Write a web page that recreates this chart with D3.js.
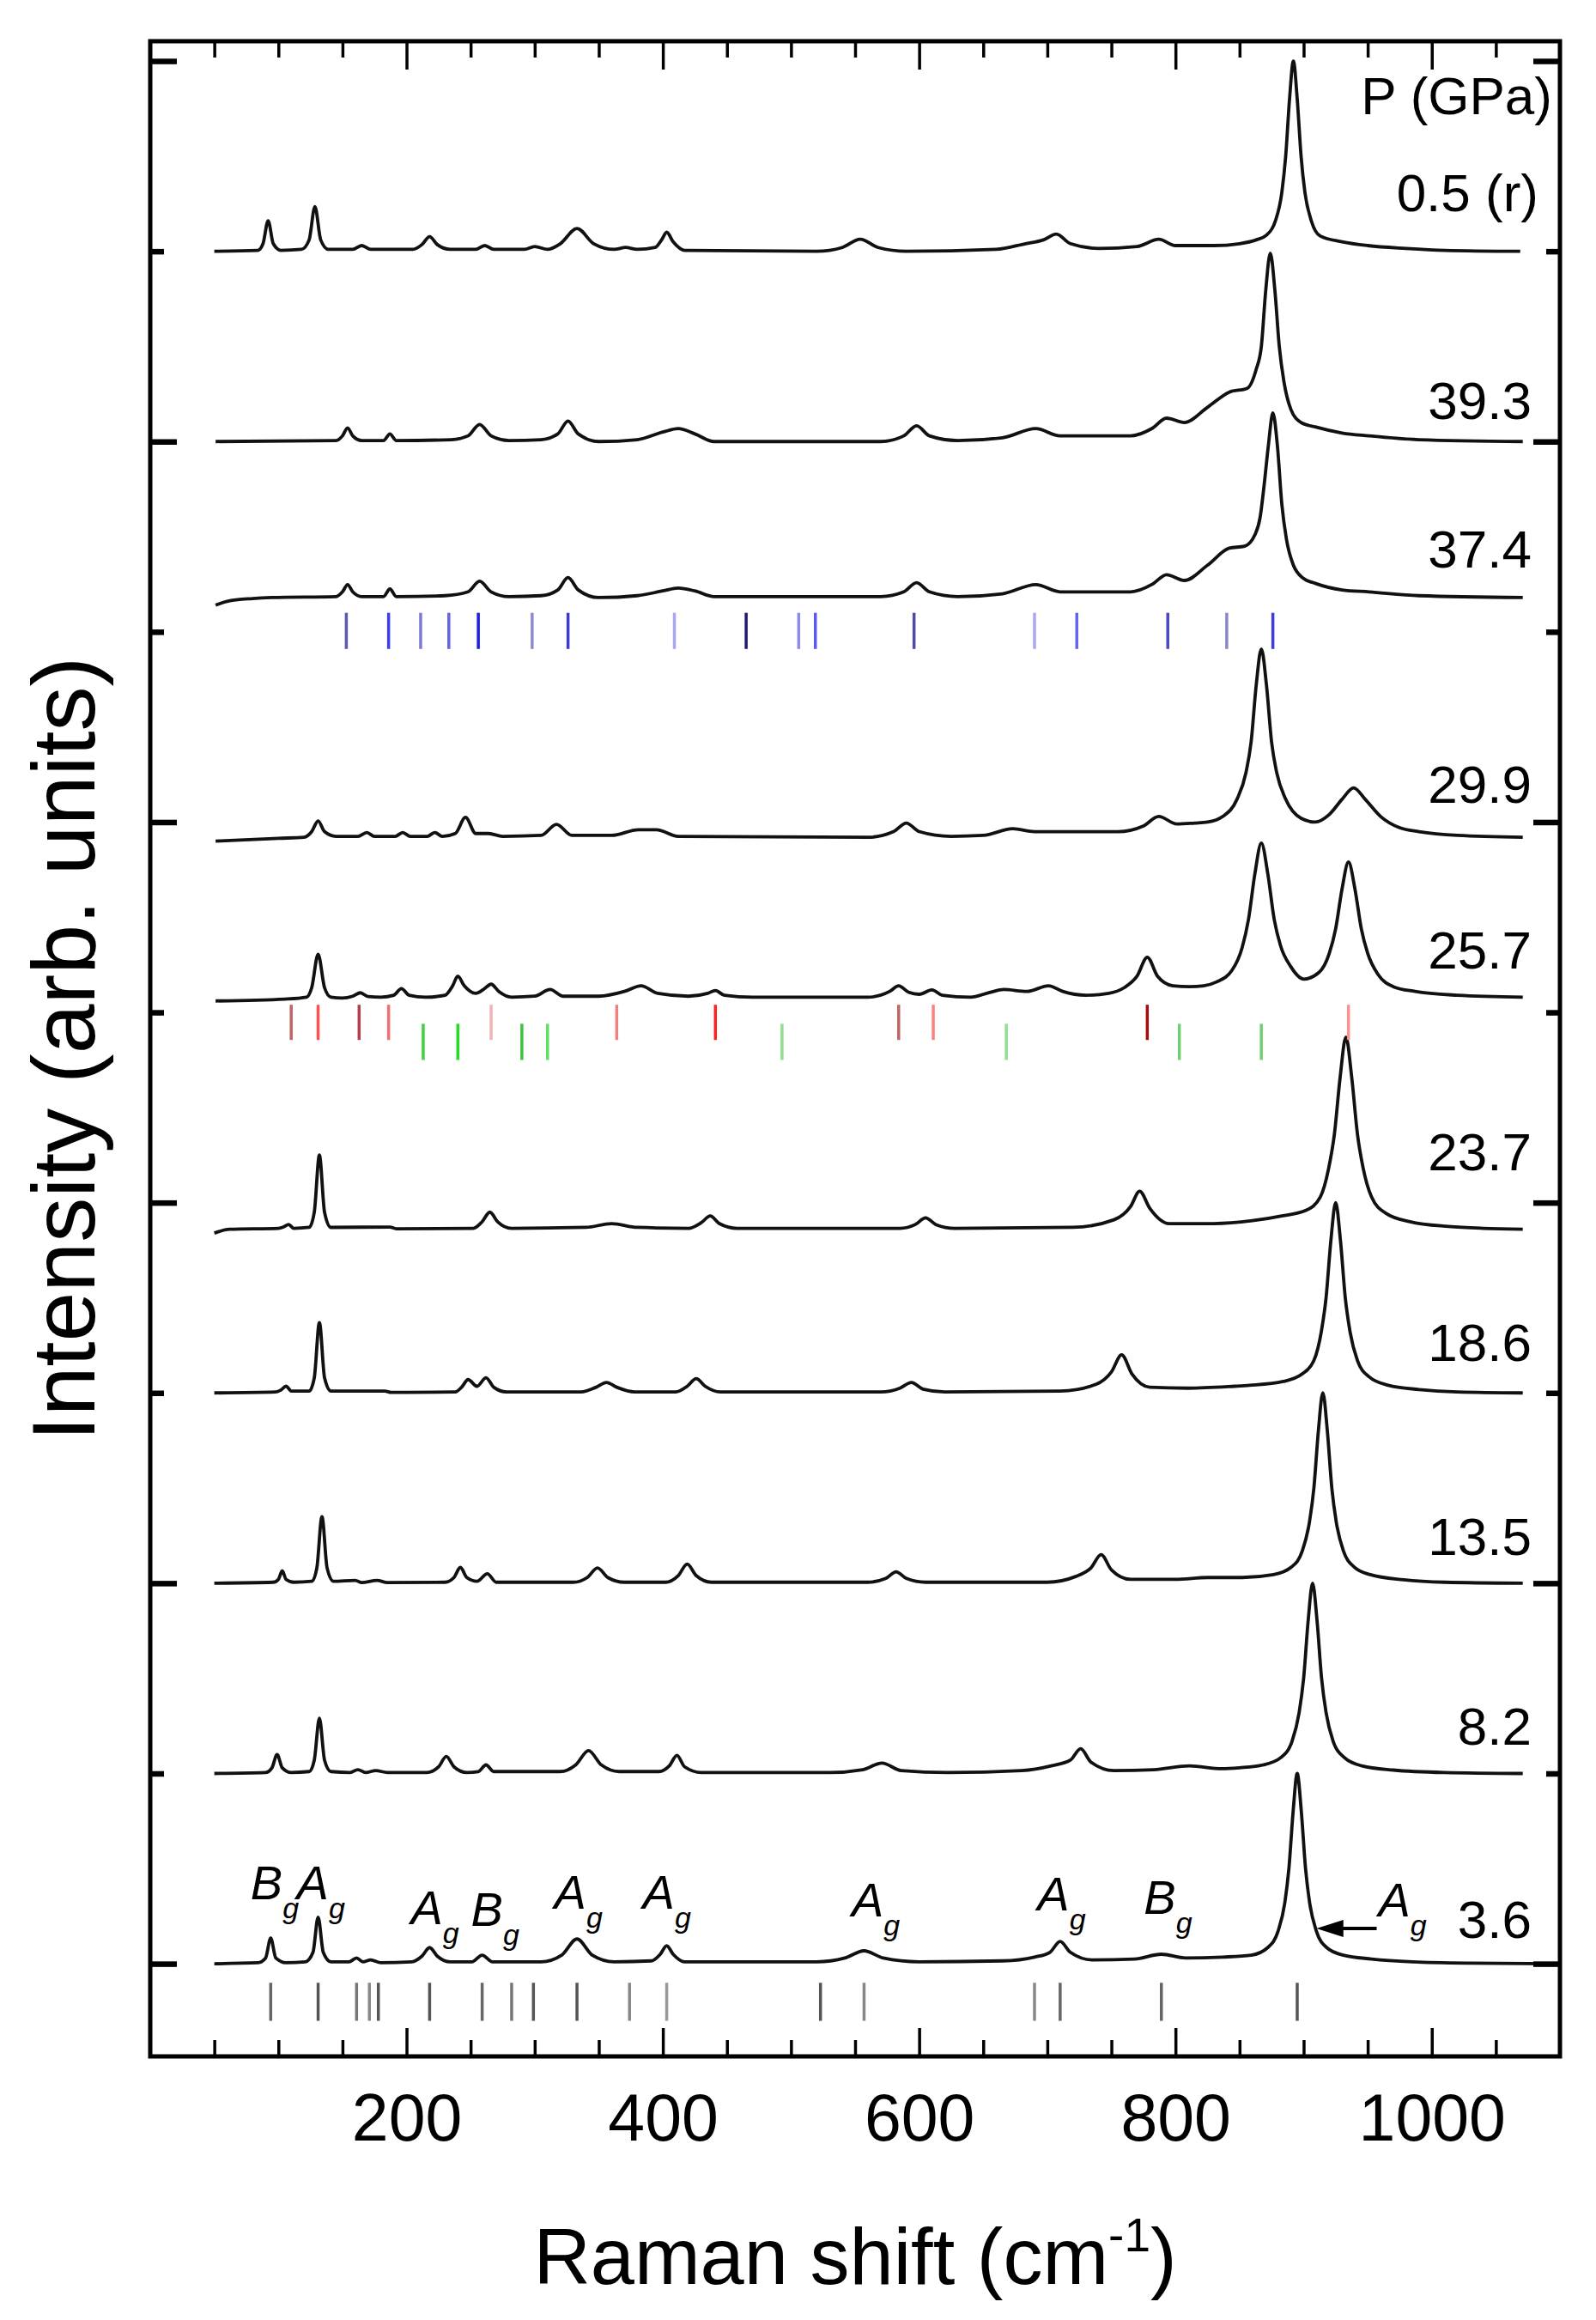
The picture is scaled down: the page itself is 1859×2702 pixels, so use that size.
<!DOCTYPE html>
<html>
<head>
<meta charset="utf-8">
<script src="https://cdn.jsdelivr.net/npm/d3@7"></script>
<style>
  body { margin: 0; background: #fff; }
  text { font-family: "Liberation Sans", Arial, sans-serif; fill: #000; }
</style>
</head>
<body>
<div id="chart"></div>
<script>

// pressure labels, top to bottom, and the vertical offset of each spectrum
const pressures = ['0.5 (r)', '39.3', '37.4', '29.9', '25.7', '23.7', '18.6', '13.5', '8.2', '3.6'];
const offsets = [9.0, 8.0, 7.18, 5.92, 5.08, 3.86, 3.0, 2.0, 1.0, 0.0];

// spectra as [Raman shift, relative intensity]
const spec05 = [[50,0],[84,0.005],[88,0.04],[92,0.16],[96,0.04],[102,0.005],[118,0.01],[124,0.06],[128.5,0.235],[133,0.06],[139,0.01],[158,0.01],[165,0.03],[172,0.01],[205,0.01],[212,0.035],[218,0.077],[224,0.035],[234,0.01],[254,0.01],[261,0.03],[268,0.01],[292,0.01],[300,0.025],[310,0.01],[320,0.04],[333,0.12],[346,0.04],[362,0.01],[371,0.02],[380,0.01],[394,0.02],[399,0.06],[403,0.1],[408,0.05],[417,0.005],[520,0],[540,0.02],[554,0.063],[568,0.02],[590,0],[660,0.01],[683,0.04],[697,0.06],[707,0.09],[718,0.04],[740,0.015],[770,0.025],[787,0.063],[800,0.03],[830,0.03],[850,0.04],[863,0.06],[871,0.085],[878,0.16],[883,0.31],[886,0.5],[889,0.8],[892,1.0],[895,0.8],[898,0.5],[901,0.31],[906,0.16],[913,0.08],[930,0.05],[950,0.03],[980,0.015],[1010,0.005],[1069,0]];

const spec393 = [[51,0],[145,0.005],[150,0.03],[154,0.072],[158,0.03],[165,0.005],[182,0.005],[187,0.04],[192,0.005],[235,0.01],[248,0.03],[257,0.09],[266,0.03],[280,0.005],[305,0.01],[318,0.04],[326,0.108],[334,0.04],[350,0],[380,0.01],[400,0.05],[412,0.068],[425,0.04],[440,0],[570,0],[588,0.03],[598,0.083],[608,0.03],[630,0.005],[665,0.02],[691,0.068],[710,0.03],[765,0.03],[782,0.07],[793,0.123],[807,0.1],[825,0.18],[842,0.26],[856,0.28],[863,0.38],[867,0.5],[870.5,0.8],[874,0.99],[877.5,0.8],[881,0.5],[884.5,0.32],[890,0.17],[898,0.1],[909,0.077],[930,0.045],[951,0.03],[990,0.01],[1071,0]];

const spec374 = [[51,-0.04],[60,-0.02],[80,-0.005],[95,0],[145,0.005],[150,0.03],[154,0.068],[158,0.03],[165,0.005],[182,0.005],[187,0.045],[192,0.005],[230,0.01],[248,0.03],[257,0.086],[266,0.03],[280,0.005],[305,0.01],[318,0.04],[326,0.105],[334,0.04],[350,0],[380,0.01],[400,0.035],[412,0.05],[425,0.035],[440,0.005],[570,0.005],[588,0.03],[598,0.078],[608,0.03],[630,0.005],[665,0.02],[691,0.068],[710,0.03],[765,0.03],[782,0.07],[793,0.12],[807,0.09],[825,0.17],[842,0.26],[854,0.27],[862,0.33],[866,0.42],[869,0.58],[872.5,0.8],[876,0.97],[879.5,0.8],[883,0.49],[886.5,0.31],[892,0.17],[900,0.1],[909,0.075],[930,0.04],[951,0.03],[990,0.01],[1071,0]];

const spec299 = [[51,-0.02],[100,-0.005],[120,0],[126,0.03],[131,0.086],[136,0.03],[145,0.005],[162,0.005],[169,0.025],[175,0.005],[191,0.005],[197,0.025],[203,0.005],[216,0.005],[222,0.025],[228,0.005],[238,0.02],[246,0.105],[254,0.02],[264,0.02],[275,0.005],[305,0.01],[317,0.068],[329,0.01],[360,0.01],[381,0.04],[395,0.04],[412,0.005],[560,0],[580,0.03],[590,0.075],[600,0.03],[625,0.005],[650,0.01],[673,0.045],[690,0.03],[755,0.03],[775,0.06],[787,0.11],[801,0.07],[815,0.075],[825,0.08],[837,0.11],[848,0.2],[855,0.34],[859,0.5],[863,0.8],[867,0.99],[871,0.8],[875,0.5],[879,0.34],[886,0.2],[898,0.1],[909,0.08],[920,0.12],[930,0.2],[939,0.26],[948,0.2],[960,0.11],[975,0.05],[990,0.03],[1020,0.01],[1071,0]];

const spec257 = [[51,-0.02],[105,-0.01],[122,0],[126,0.05],[131,0.225],[136,0.05],[141,0],[150,-0.005],[158,0.005],[164,0.023],[170,0.003],[180,0],[190,0.01],[196,0.045],[202,0.01],[215,0],[230,0.01],[236,0.06],[240,0.11],[245,0.06],[254,0.02],[260,0.04],[266,0.068],[272,0.03],[282,0],[300,0.005],[312,0.04],[322,0.005],[350,0.005],[370,0.03],[383,0.06],[396,0.02],[420,0.005],[435,0.02],[441,0.035],[448,0.01],[470,0],[560,0],[577,0.03],[584,0.06],[592,0.025],[600,0.015],[610,0.038],[618,0.01],[640,0],[655,0.025],[666,0.04],[684,0.03],[701,0.06],[712,0.03],[730,0.01],[748,0.02],[760,0.05],[770,0.11],[778,0.21],[786,0.11],[798,0.06],[811,0.055],[822,0.06],[832,0.08],[844,0.14],[852,0.26],[857,0.41],[862,0.65],[867,0.81],[872,0.65],[877,0.41],[882,0.27],[890,0.16],[900,0.095],[912,0.13],[920,0.23],[925,0.36],[930,0.57],[935,0.71],[940,0.57],[945,0.36],[950,0.23],[958,0.12],[970,0.055],[987,0.03],[1020,0.01],[1071,0]];

const spec237 = [[50,-0.02],[62,0],[100,0.005],[104,0.012],[108,0.025],[112,0.005],[124,0.01],[128,0.09],[132,0.39],[136,0.09],[141,0.01],[187,0.012],[192,0.003],[252,0.005],[259,0.04],[265,0.09],[271,0.04],[282,0.005],[340,0.01],[360,0.03],[380,0.01],[420,0.005],[430,0.035],[437,0.07],[444,0.03],[458,0.005],[585,0.005],[597,0.025],[605,0.06],[613,0.025],[628,0.005],[720,0.01],[752,0.05],[765,0.12],[772,0.2],[780,0.11],[795,0.03],[830,0.03],[860,0.045],[883,0.07],[902,0.1],[913,0.17],[919.5,0.32],[924,0.5],[928.5,0.8],[933,1.01],[937.5,0.8],[942,0.5],[946.5,0.32],[953,0.17],[964,0.085],[983,0.04],[1013,0.015],[1040,0.005],[1071,0]];

const spec186 = [[50,0],[98,0.005],[102,0.015],[106,0.036],[110,0.01],[124,0.01],[128,0.08],[132,0.37],[136,0.08],[141,0.01],[183,0.01],[188,0.003],[238,0.005],[243,0.03],[248,0.07],[255,0.035],[262,0.08],[268,0.03],[278,0.005],[336,0.005],[348,0.03],[356,0.055],[364,0.03],[378,0.005],[410,0.005],[419,0.035],[426,0.075],[433,0.035],[445,0.005],[570,0.005],[585,0.025],[594,0.055],[603,0.02],[620,0.005],[710,0.01],[738,0.045],[750,0.11],[758,0.2],[766,0.1],[780,0.03],[810,0.025],[846,0.035],[858,0.04],[884,0.06],[899,0.1],[908,0.17],[913.75,0.32],[917.5,0.5],[921.25,0.8],[925,1],[928.75,0.8],[932.5,0.5],[936.25,0.32],[942,0.17],[951,0.085],[966,0.04],[990,0.018],[1020,0.005],[1071,0]];

const spec135 = [[50,0],[96,0.005],[100,0.02],[103,0.065],[106,0.02],[112,0.005],[126,0.01],[130,0.08],[134,0.35],[138,0.08],[143,0.01],[160,0.015],[165,0.003],[177,0.015],[185,0.003],[230,0.005],[237,0.03],[242,0.083],[247,0.03],[255,0.01],[263,0.05],[270,0.005],[330,0.005],[341,0.03],[349,0.08],[357,0.03],[370,0.005],[402,0.005],[412,0.04],[419,0.1],[426,0.04],[438,0.005],[560,0.005],[574,0.025],[582,0.06],[590,0.025],[605,0.005],[700,0.005],[722,0.035],[734,0.08],[742,0.15],[750,0.07],[765,0.02],[800,0.02],[825,0.03],[852,0.03],[876.5,0.045],[890.5,0.085],[899,0.17],[904.5,0.32],[908,0.5],[911.5,0.8],[915,1],[918.5,0.8],[922,0.5],[925.5,0.32],[931,0.17],[939.5,0.085],[952,0.045],[978,0.018],[1010,0.005],[1071,0]];

const spec82 = [[50,0],[90,0.005],[95,0.03],[99,0.1],[103,0.03],[110,0.005],[124,0.01],[128,0.07],[132,0.29],[136,0.07],[141,0.01],[156,0.005],[162,0.02],[168,0.005],[176,0.015],[185,0.005],[216,0.005],[225,0.035],[231,0.09],[237,0.035],[247,0.005],[256,0.01],[262,0.045],[268,0.01],[320,0.01],[332,0.045],[342,0.12],[352,0.045],[366,0.01],[397,0.01],[405,0.04],[411,0.095],[417,0.035],[430,0.005],[530,0.005],[556,0.02],[571,0.055],[586,0.015],[622,0.005],[680,0.015],[703,0.04],[718,0.07],[726,0.13],[734,0.06],[752,0.015],[783,0.02],[811,0.04],[836,0.025],[850,0.03],[868.5,0.045],[882.5,0.085],[891,0.17],[896.5,0.32],[900,0.5],[903.5,0.8],[907,1],[910.5,0.8],[914,0.5],[917.5,0.32],[923,0.17],[931.5,0.085],[945.5,0.04],[970,0.018],[1010,0.005],[1071,0]];

const spec36 = [[50,0],[84,0.005],[90,0.03],[94,0.135],[98,0.03],[106,0.005],[121,0.01],[127,0.06],[131,0.245],[135,0.06],[141,0.01],[155,0.01],[161,0.03],[166,0.01],[172,0.02],[180,0.005],[204,0.01],[212,0.04],[218,0.085],[224,0.04],[234,0.01],[251,0.01],[259,0.045],[267,0.01],[305,0.01],[321,0.045],[333,0.13],[345,0.045],[362,0.01],[391,0.015],[398,0.05],[403,0.095],[408,0.05],[417,0.01],[520,0.01],[542,0.03],[557,0.068],[572,0.03],[600,0.01],[665,0.015],[690,0.035],[702,0.06],[710,0.117],[718,0.06],[735,0.02],[768,0.025],[789,0.05],[808,0.03],[837,0.035],[859,0.045],[872,0.085],[880,0.17],[885.3,0.32],[888.5,0.5],[891.8,0.8],[895,1],[898.2,0.8],[901.5,0.5],[904.7,0.32],[910,0.17],[918,0.085],[931,0.045],[953,0.025],[985,0.01],[1030,0.003],[1100,0]];

const spectra = [spec05, spec393, spec374, spec299, spec257, spec237, spec186, spec135, spec82, spec36];

// calculated mode positions (bars under the spectra)
const blueModes = [153, 186, 211, 233, 256, 298, 326, 409, 465, 506, 519, 596, 690, 723, 794, 840, 876];
const blueShades = ['#5a5ab0', '#3c3cf0', '#7a7ad8', '#6464e0', '#1e1ee6', '#8a8ad0', '#3c3cd0', '#a8a8f0', '#1c1c78', '#8c8ce8', '#5a5af0', '#4a4aa8', '#a8a8f0', '#6464f0', '#4a4ac0', '#8888c8', '#3c3ce0'];
const redModes = [110, 131, 163, 186, 266, 364, 441, 584, 611, 778, 935];
const redShades = ['#c06464', '#ff5050', '#b04050', '#f07070', '#f0b4b4', '#f08080', '#ff2020', '#c06464', '#ff8080', '#a01010', '#ff9090'];
const greenModes = [213, 240, 290, 310, 493, 668, 803, 867];
const greenShades = ['#40d040', '#20e020', '#40c040', '#60e060', '#90e090', '#90e090', '#70d070', '#70d070'];
const blackModes = [94, 131, 161, 171, 178, 218, 259, 282, 299, 333, 374, 403, 523, 557, 690, 710, 789, 895];
const blackShades = ['#666', '#555', '#777', '#888', '#555', '#555', '#666', '#777', '#555', '#555', '#888', '#999', '#555', '#888', '#888', '#666', '#666', '#555'];

// mode symmetry labels on the 3.6 GPa spectrum
const modeSymbols = ['B', 'A', 'A', 'B', 'A', 'A', 'A', 'A', 'B', 'A'];
const modeShifts = [91, 127, 216, 263, 328, 397, 560, 705, 788, 971];

// layout
const W = 1859, H = 2702;
const frame = {left: 175, right: 1817, top: 48, bottom: 2395};
const labelY = [9.21, 8.12, 7.34, 6.10, 5.23, 4.17, 3.17, 2.15, 1.15, 0.135];
const modeLabelY = [0.34, 0.34, 0.21, 0.2, 0.29, 0.29, 0.25, 0.28, 0.26, 0.25];

const x = d3.scaleLinear().domain([0, 1100]).range([frame.left, frame.right]);
const y = d3.scaleLinear().domain([-0.487, 10.104]).range([frame.bottom, frame.top]);

const svg = d3.select('#chart')
  .append('svg')
  .attr('width', W)
  .attr('height', H);

// spectra
const line = d3.line()
  .x(function(d) { return x(d[0]); })
  .y(function(d) { return y(d[1] + d[2]); })
  .curve(d3.curveMonotoneX);

svg.append('g')
  .selectAll('path')
  .data(spectra)
  .enter()
  .append('path')
  .attr('fill', 'none')
  .attr('stroke', '#111')
  .attr('stroke-width', 3.8)
  .attr('stroke-linejoin', 'round')
  .attr('d', function(d, i) {
    return line(d.map(function(p) { return [p[0], p[1], offsets[i]]; }));
  });

// mode bars
function modeBars(modes, shades, y0, y1) {
  svg.append('g')
    .selectAll('line')
    .data(modes)
    .enter()
    .append('line')
    .attr('x1', function(d) { return x(d); })
    .attr('x2', function(d) { return x(d); })
    .attr('y1', y(y0))
    .attr('y2', y(y1))
    .attr('stroke', function(d, i) { return shades[i]; })
    .attr('stroke-width', 3.5);
}

modeBars(blueModes, blueShades, 7.10, 6.91);
modeBars(redModes, redShades, 5.04, 4.855);
modeBars(greenModes, greenShades, 4.94, 4.75);
modeBars(blackModes, blackShades, -0.1, -0.3);

// axes: inward ticks on all four sides
const minorX = d3.range(50, 1100, 50).filter(function(v) { return v % 200 !== 0; });
const majorX = [200, 400, 600, 800, 1000];

function styleAxis(g, width) {
  g.select('.domain').remove();
  g.selectAll('.tick line').attr('stroke', '#000').attr('stroke-width', width);
}

svg.append('g')
  .attr('transform', 'translate(0,' + frame.bottom + ')')
  .call(d3.axisBottom(x).tickValues(minorX).tickSize(-19).tickFormat(''))
  .call(styleAxis, 3.5);

const bottomMajor = svg.append('g')
  .attr('transform', 'translate(0,' + frame.bottom + ')')
  .call(d3.axisBottom(x).tickValues(majorX).tickSize(-33).tickPadding(43).tickFormat(d3.format('d')))
  .call(styleAxis, 3.5);

bottomMajor.selectAll('.tick text')
  .attr('font-size', 77)
  .attr('font-family', '"Liberation Sans", Arial, sans-serif')
  .attr('fill', '#000');

svg.append('g')
  .attr('transform', 'translate(0,' + frame.top + ')')
  .call(d3.axisTop(x).tickValues(minorX).tickSize(-19).tickFormat(''))
  .call(styleAxis, 3.5);

svg.append('g')
  .attr('transform', 'translate(0,' + frame.top + ')')
  .call(d3.axisTop(x).tickValues(majorX).tickSize(-33).tickFormat(''))
  .call(styleAxis, 3.5);

const majorY = [0, 2, 4, 6, 8, 10];
const minorY = [1, 3, 5, 7, 9];

[[d3.axisLeft, frame.left], [d3.axisRight, frame.right]].forEach(function(a) {
  svg.append('g')
    .attr('transform', 'translate(' + a[1] + ',0)')
    .call(a[0](y).tickValues(majorY).tickSize(-31).tickFormat(''))
    .call(styleAxis, 6.5);
  svg.append('g')
    .attr('transform', 'translate(' + a[1] + ',0)')
    .call(a[0](y).tickValues(minorY).tickSize(-16).tickFormat(''))
    .call(styleAxis, 6.5);
});

// frame
svg.append('rect')
  .attr('x', frame.left)
  .attr('y', frame.top)
  .attr('width', frame.right - frame.left)
  .attr('height', frame.bottom - frame.top)
  .attr('fill', 'none')
  .attr('stroke', '#000')
  .attr('stroke-width', 5);

// pressure labels
svg.append('text')
  .attr('x', 1808)
  .attr('y', y(9.72))
  .attr('text-anchor', 'end')
  .attr('font-size', 62)
  .text('P (GPa)');

svg.append('g')
  .selectAll('text')
  .data(pressures)
  .enter()
  .append('text')
  .attr('x', function(d, i) { return i === 0 ? 1792 : 1784; })
  .attr('y', function(d, i) { return y(labelY[i]); })
  .attr('text-anchor', 'end')
  .attr('font-size', 62)
  .text(String);

// mode symmetry labels
const modeText = svg.append('g')
  .selectAll('text')
  .data(modeSymbols)
  .enter()
  .append('text')
  .attr('x', function(d, i) { return x(modeShifts[i]) - 19; })
  .attr('y', function(d, i) { return y(modeLabelY[i]); })
  .attr('font-style', 'italic')
  .attr('font-size', 56);

modeText.append('tspan').text(String);
modeText.append('tspan')
  .attr('font-size', 34)
  .attr('dy', 22)
  .text('g');

// arrow pointing at the strongest A_g mode
const arrowY = y(0.185);
svg.append('line')
  .attr('x1', x(957))
  .attr('x2', x(925))
  .attr('y1', arrowY)
  .attr('y2', arrowY)
  .attr('stroke', '#000')
  .attr('stroke-width', 4);

svg.append('path')
  .attr('d', 'M' + x(910) + ',' + arrowY +
    'L' + x(931) + ',' + (arrowY - 10) +
    'L' + x(931) + ',' + (arrowY + 10) + 'Z')
  .attr('fill', '#000');

// axis titles
const xTitle = svg.append('text')
  .attr('x', (frame.left + frame.right) / 2)
  .attr('y', 2660)
  .attr('text-anchor', 'middle')
  .attr('font-size', 92);
xTitle.append('tspan').text('Raman shift (cm');
xTitle.append('tspan').attr('font-size', 55).attr('dy', -38).text('-1');
xTitle.append('tspan').attr('dy', 38).text(')');

svg.append('text')
  .attr('transform', 'translate(110,' + ((frame.top + frame.bottom) / 2) + ') rotate(-90)')
  .attr('text-anchor', 'middle')
  .attr('font-size', 104)
  .text('Intensity (arb. units)');

</script>
</body>
</html>
